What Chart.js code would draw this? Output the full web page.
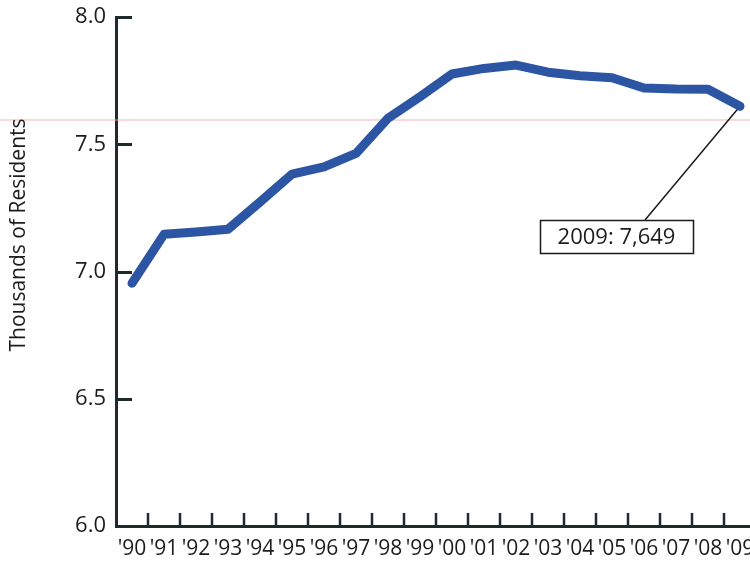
<!DOCTYPE html>
<html>
<head>
<meta charset="utf-8">
<script src="https://cdn.jsdelivr.net/npm/chart.js@4.4.1/dist/chart.umd.min.js"></script>
<style>
  html, body { margin: 0; padding: 0; background: #fff; overflow: hidden; width: 750px; height: 561px; }
  canvas { display: block; }
</style>
</head>
<body>
<canvas id="c" width="766" height="561"></canvas>
<script>
// Resident population, thousands, 1990-2009
const years = ['1990','1991','1992','1993','1994','1995','1996','1997','1998','1999',
               '2000','2001','2002','2003','2004','2005','2006','2007','2008','2009'];
const yearLabels = ["'90","'91","'92","'93","'94","'95","'96","'97","'98","'99",
                    "'00","'01","'02","'03","'04","'05","'06","'07","'08","'09"];
const residents = [6.954, 7.146, 7.155, 7.166, 7.273, 7.383, 7.411, 7.464, 7.602, 7.687,
                   7.776, 7.798, 7.811, 7.783, 7.769, 7.761, 7.721, 7.717, 7.716, 7.649];
const yTickValues = [6.0, 6.5, 7.0, 7.5, 8.0];
const referenceLevel = 7.595;
const axisTitle = 'Thousands of Residents';

const INK = '#1f2a2a';
const TEXT = '#1c1c1c';
const FONT = '"Open Sans", "Noto Sans", sans-serif';

// Faint ruled line across the whole plot, under the data line
const referenceLine = {
  id: 'referenceLine',
  beforeDatasetsDraw(chart) {
    const { ctx } = chart;
    const y = chart.scales.y.getPixelForValue(referenceLevel);
    ctx.save();
    ctx.strokeStyle = 'rgba(240,170,170,0.6)';
    ctx.lineWidth = 1.5;
    ctx.beginPath();
    ctx.moveTo(0, y);
    ctx.lineTo(chart.width, y);
    ctx.stroke();
    ctx.restore();
  }
};

// Inward tick marks on both axes
const innerTicks = {
  id: 'innerTicks',
  afterDraw(chart) {
    const { ctx, chartArea } = chart;
    const xs = chart.scales.x, ys = chart.scales.y;
    ctx.save();
    ctx.strokeStyle = INK;
    ctx.lineCap = 'butt';
    ctx.lineWidth = 3;
    yTickValues.forEach(v => {
      if (v === ys.min) return;
      const y = Math.round(ys.getPixelForValue(v)) + 0.5;
      ctx.beginPath();
      ctx.moveTo(chartArea.left, y);
      ctx.lineTo(chartArea.left + 16, y);
      ctx.stroke();
    });
    ctx.lineWidth = 2.5;
    for (let i = 1; i < years.length; i++) {
      const x = Math.round((xs.getPixelForValue(i - 1) + xs.getPixelForValue(i)) / 2);
      ctx.beginPath();
      ctx.moveTo(x, chartArea.bottom);
      ctx.lineTo(x, chartArea.bottom - 13);
      ctx.stroke();
    }
    ctx.restore();
  }
};

// Rotated axis title at the left edge
const sideTitle = {
  id: 'sideTitle',
  afterDraw(chart) {
    const { ctx } = chart;
    ctx.save();
    ctx.translate(19, 235);
    ctx.rotate(-Math.PI / 2);
    ctx.font = '21px ' + FONT;
    ctx.fillStyle = TEXT;
    ctx.textAlign = 'center';
    ctx.textBaseline = 'middle';
    ctx.fillText(axisTitle, 0, 0);
    ctx.restore();
  }
};

// Callout for the final year
const lastCallout = {
  id: 'lastCallout',
  box: { left: 540, top: 220, width: 153, height: 33, anchorX: 645 },
  beforeDatasetsDraw(chart) {
    const { ctx } = chart;
    const n = residents.length - 1;
    const px = chart.scales.x.getPixelForValue(n);
    const py = chart.scales.y.getPixelForValue(residents[n]);
    const b = this.box;
    ctx.save();
    ctx.strokeStyle = '#1a1a1a';
    ctx.lineWidth = 1.5;
    ctx.beginPath();
    ctx.moveTo(px, py);
    ctx.lineTo(b.anchorX, b.top);
    ctx.stroke();
    ctx.restore();
  },
  afterDatasetsDraw(chart) {
    const { ctx } = chart;
    const n = residents.length - 1;
    const b = this.box;
    const label = years[n] + ': ' + Math.round(residents[n] * 1000).toLocaleString('en-US');
    ctx.save();
    ctx.fillStyle = '#fff';
    ctx.fillRect(b.left, b.top, b.width, b.height);
    ctx.strokeStyle = '#1a1a1a';
    ctx.lineWidth = 1.5;
    ctx.strokeRect(b.left + 0.5, b.top + 0.5, b.width, b.height);
    ctx.font = '22px ' + FONT;
    ctx.fillStyle = TEXT;
    ctx.textAlign = 'center';
    ctx.textBaseline = 'middle';
    ctx.fillText(label, b.left + b.width / 2, b.top + b.height / 2 + 1);
    ctx.restore();
  }
};

new Chart(document.getElementById('c'), {
  type: 'line',
  data: {
    labels: yearLabels,
    datasets: [{
      data: residents,
      borderColor: '#2c55a3',
      borderWidth: 9,
      borderCapStyle: 'round',
      borderJoinStyle: 'round',
      pointRadius: 0,
      tension: 0,
      fill: false
    }]
  },
  options: {
    responsive: false,
    animation: false,
    layout: { padding: { left: 0, top: 17, right: 10, bottom: 0 } },
    plugins: { legend: { display: false }, tooltip: { enabled: false } },
    scales: {
      x: {
        offset: true,
        grid: { display: true, drawOnChartArea: false, drawTicks: false, offset: true, color: 'rgba(0,0,0,0)' },
        border: { display: true, color: INK, width: 3 },
        ticks: {
          color: TEXT, font: { family: FONT, size: 21 }, padding: 10,
          autoSkip: false, maxRotation: 0, minRotation: 0
        },
        afterFit(scale) { scale.height = 35; scale.paddingLeft = 0; scale.paddingRight = 0; }
      },
      y: {
        min: 6, max: 8,
        grid: { display: true, drawOnChartArea: false, drawTicks: false, color: 'rgba(0,0,0,0)' },
        border: { display: true, color: INK, width: 3 },
        afterBuildTicks(scale) { scale.ticks = yTickValues.map(v => ({ value: v })); },
        ticks: {
          color: TEXT, font: { family: FONT, size: 22 }, padding: 10,
          callback: v => Number(v).toFixed(1)
        },
        afterFit(scale) { scale.width = 116; scale.paddingTop = 0; scale.paddingBottom = 0; }
      }
    }
  },
  plugins: [referenceLine, innerTicks, sideTitle, lastCallout]
});
</script>
</body>
</html>
